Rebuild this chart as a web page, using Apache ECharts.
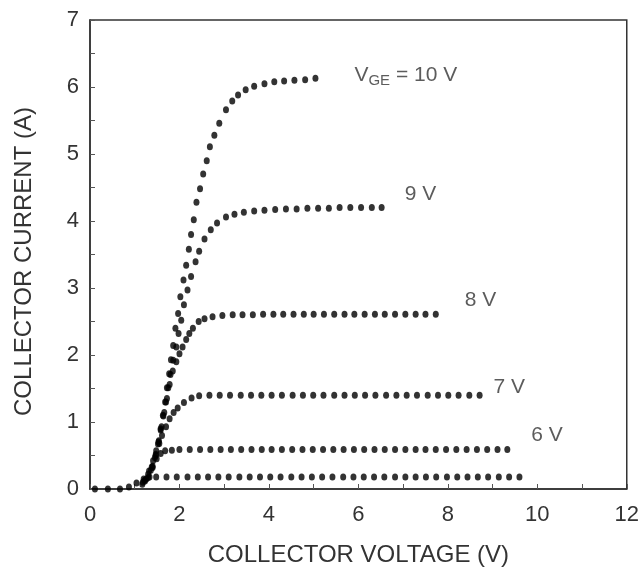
<!DOCTYPE html>
<html>
<head>
<meta charset="utf-8">
<script src="https://cdn.jsdelivr.net/npm/echarts@6/dist/echarts.min.js"></script>
<style>
    html, body { margin: 0; padding: 0; background: #fff; }
    #main { width: 642px; height: 574px; }
</style>
</head>
<body>
<div id="main"></div>
<script>
// collector voltage (V), collector current (A) — one pair per dot
var vge10 = [
    [1.17, 0.07], [1.3, 0.17], [1.4, 0.32], [1.47, 0.5], [1.53, 0.7], [1.58, 0.9],
    [1.63, 1.1], [1.68, 1.3], [1.72, 1.51], [1.77, 1.72], [1.81, 1.93], [1.86, 2.14],
    [1.91, 2.4], [1.97, 2.62], [2.02, 2.87], [2.09, 3.12], [2.15, 3.34], [2.21, 3.58],
    [2.26, 3.8], [2.32, 4.02], [2.38, 4.28], [2.46, 4.48], [2.53, 4.7], [2.61, 4.9],
    [2.68, 5.11], [2.78, 5.28], [2.89, 5.46], [3.04, 5.66], [3.18, 5.79], [3.31, 5.88],
    [3.48, 5.96], [3.67, 6.01], [3.9, 6.05], [4.12, 6.08], [4.34, 6.09], [4.57, 6.1],
    [4.81, 6.11], [5.04, 6.13]
]
var vge9 = [
    [1.23, 0.12], [1.36, 0.28], [1.45, 0.47], [1.52, 0.67], [1.58, 0.88], [1.64, 1.09],
    [1.7, 1.3], [1.75, 1.51], [1.8, 1.71], [1.86, 1.92], [1.93, 2.12], [1.98, 2.32],
    [2.04, 2.52], [2.1, 2.75], [2.18, 2.97], [2.26, 3.17], [2.36, 3.39], [2.44, 3.55],
    [2.56, 3.73], [2.7, 3.87], [2.84, 3.97], [3.04, 4.06], [3.23, 4.1], [3.44, 4.13],
    [3.67, 4.15], [3.9, 4.16], [4.14, 4.17], [4.38, 4.18], [4.62, 4.18], [4.86, 4.19],
    [5.1, 4.19], [5.34, 4.19], [5.58, 4.2], [5.82, 4.2], [6.06, 4.2], [6.3, 4.2], [6.52, 4.2]
]
var vge8 = [
    [1.26, 0.15], [1.38, 0.33], [1.47, 0.52], [1.54, 0.72], [1.6, 0.93], [1.66, 1.14],
    [1.72, 1.35], [1.78, 1.56], [1.85, 1.76], [1.93, 1.9], [2.0, 2.02], [2.07, 2.12],
    [2.15, 2.23], [2.22, 2.32], [2.3, 2.4], [2.43, 2.5], [2.56, 2.54], [2.74, 2.57],
    [2.96, 2.59], [3.19, 2.6], [3.41, 2.6], [3.64, 2.6], [3.87, 2.61], [4.1, 2.61],
    [4.32, 2.61], [4.55, 2.61], [4.78, 2.61], [5.0, 2.61], [5.23, 2.61], [5.46, 2.61],
    [5.69, 2.61], [5.91, 2.61], [6.14, 2.61], [6.37, 2.61], [6.59, 2.61], [6.82, 2.61],
    [7.05, 2.61], [7.28, 2.61], [7.5, 2.61], [7.73, 2.61]
]
var vge7 = [
    [1.22, 0.13], [1.32, 0.27], [1.41, 0.42], [1.48, 0.57], [1.55, 0.68], [1.61, 0.8],
    [1.7, 0.93], [1.78, 1.05], [1.87, 1.14], [1.96, 1.21], [2.1, 1.29], [2.27, 1.36],
    [2.44, 1.39], [2.67, 1.4], [2.9, 1.4], [3.13, 1.4], [3.37, 1.4], [3.6, 1.4],
    [3.83, 1.4], [4.06, 1.4], [4.29, 1.4], [4.53, 1.4], [4.76, 1.4], [4.99, 1.4],
    [5.22, 1.4], [5.46, 1.4], [5.69, 1.4], [5.92, 1.4], [6.15, 1.4], [6.38, 1.4],
    [6.62, 1.4], [6.85, 1.4], [7.08, 1.4], [7.31, 1.4], [7.55, 1.4], [7.78, 1.4],
    [8.01, 1.4], [8.24, 1.4], [8.48, 1.4], [8.71, 1.4]
]
var vge6 = [
    [1.18, 0.1], [1.3, 0.22], [1.4, 0.34], [1.49, 0.45], [1.58, 0.53], [1.68, 0.57],
    [1.83, 0.58], [2.0, 0.59], [2.23, 0.59], [2.46, 0.59], [2.69, 0.59], [2.92, 0.59],
    [3.15, 0.59], [3.38, 0.59], [3.61, 0.59], [3.84, 0.59], [4.06, 0.59], [4.29, 0.59],
    [4.52, 0.59], [4.75, 0.59], [4.98, 0.59], [5.21, 0.59], [5.44, 0.59], [5.67, 0.59],
    [5.9, 0.59], [6.13, 0.59], [6.36, 0.59], [6.59, 0.59], [6.82, 0.59], [7.05, 0.59],
    [7.28, 0.59], [7.5, 0.59], [7.73, 0.59], [7.96, 0.59], [8.19, 0.59], [8.42, 0.59],
    [8.65, 0.59], [8.88, 0.59], [9.11, 0.59], [9.33, 0.59]
]
var vge5 = [
    [0.11, 0], [0.4, 0], [0.67, 0], [0.87, 0.03], [1.04, 0.09], [1.2, 0.15],
    [1.33, 0.18], [1.48, 0.18], [1.71, 0.18], [1.94, 0.18], [2.18, 0.18], [2.41, 0.18],
    [2.64, 0.18], [2.87, 0.18], [3.1, 0.18], [3.34, 0.18], [3.57, 0.18], [3.8, 0.18],
    [4.03, 0.18], [4.26, 0.18], [4.5, 0.18], [4.73, 0.18], [4.96, 0.18], [5.19, 0.18],
    [5.42, 0.18], [5.66, 0.18], [5.89, 0.18], [6.12, 0.18], [6.35, 0.18], [6.58, 0.18],
    [6.82, 0.18], [7.05, 0.18], [7.28, 0.18], [7.51, 0.18], [7.74, 0.18], [7.98, 0.18],
    [8.21, 0.18], [8.44, 0.18], [8.67, 0.18], [8.9, 0.18], [9.14, 0.18], [9.37, 0.18],
    [9.6, 0.18]
]

var curveLabels = ['{a|V}{b|GE}{a| = 10 V}', '9 V', '8 V', '7 V', '6 V', '']
var curves = [vge10, vge9, vge8, vge7, vge6, vge5]
// label placement next to the last dot of each curve
var labelPlace = [
    {distance: 36, offset: [0, -3]},
    {distance: 20, offset: [0, -13]},
    {distance: 26, offset: [0, -14]},
    {distance: 11, offset: [0, -8]},
    {distance: 21, offset: [0, -14]},
    {distance: 0, offset: [0, 0]},
]

var textColor = '#333'
var font = 'Liberation Sans, Arial, sans-serif'

var buildSeries = () => {
    var result = []
    for (var i = 0; i < curves.length; i++) {
        var pts = curves[i]
        var data = pts.map((p, j) => {
            if (j === pts.length - 1 && curveLabels[i] !== '') {
                return {
                    value: p,
                    label: {
                        show: true,
                        position: 'right',
                        distance: labelPlace[i].distance,
                        offset: labelPlace[i].offset,
                        formatter: curveLabels[i],
                        color: textColor,
                        fontFamily: font,
                        fontSize: 21,
                        rich: {
                            a: {fontSize: 21, color: textColor, fontFamily: font},
                            b: {fontSize: 15, color: textColor, fontFamily: font, padding: [12, 0, 0, 0]},
                        },
                    },
                }
            }
            return p
        })
        result.push({
            type: 'scatter',
            symbol: 'circle',
            symbolSize: [6, 7],
            itemStyle: {color: '#000'},
            silent: true,
            data: data,
        })
    }
    return result
}

var myChart = echarts.init(document.querySelector('#main'))

myChart.setOption({
    animation: false,
    grid: {
        left: 90,
        right: 11,
        top: 20,
        bottom: 85,
        show: true,
        borderColor: '#333',
        borderWidth: 1.5,
    },
    xAxis: {
        type: 'value',
        min: 0,
        max: 12,
        interval: 2,
        name: 'COLLECTOR VOLTAGE (V)',
        nameLocation: 'middle',
        nameGap: 54,
        nameTextStyle: {color: textColor, fontSize: 24, fontFamily: font},
        axisLine: {lineStyle: {color: '#333', width: 1.5}},
        axisTick: {inside: true, length: 5, lineStyle: {color: '#555'}},
        minorTick: {show: true, splitNumber: 2, length: 5, lineStyle: {color: '#555'}},
        splitLine: {show: false},
        axisLabel: {color: textColor, fontSize: 22, fontFamily: font, margin: 15},
    },
    yAxis: {
        type: 'value',
        min: 0,
        max: 7,
        interval: 1,
        name: 'COLLECTOR CURRENT (A)',
        nameLocation: 'middle',
        nameGap: 54,
        nameTextStyle: {color: textColor, fontSize: 24, fontFamily: font, padding: [0, 14, 0, 0]},
        axisLine: {lineStyle: {color: '#333', width: 1.5}},
        axisTick: {inside: true, length: 5, lineStyle: {color: '#555'}},
        minorTick: {show: true, splitNumber: 2, length: 5, lineStyle: {color: '#555'}},
        splitLine: {show: false},
        axisLabel: {color: textColor, fontSize: 22, fontFamily: font, margin: 11},
    },
    series: buildSeries(),
})
</script>
</body>
</html>
